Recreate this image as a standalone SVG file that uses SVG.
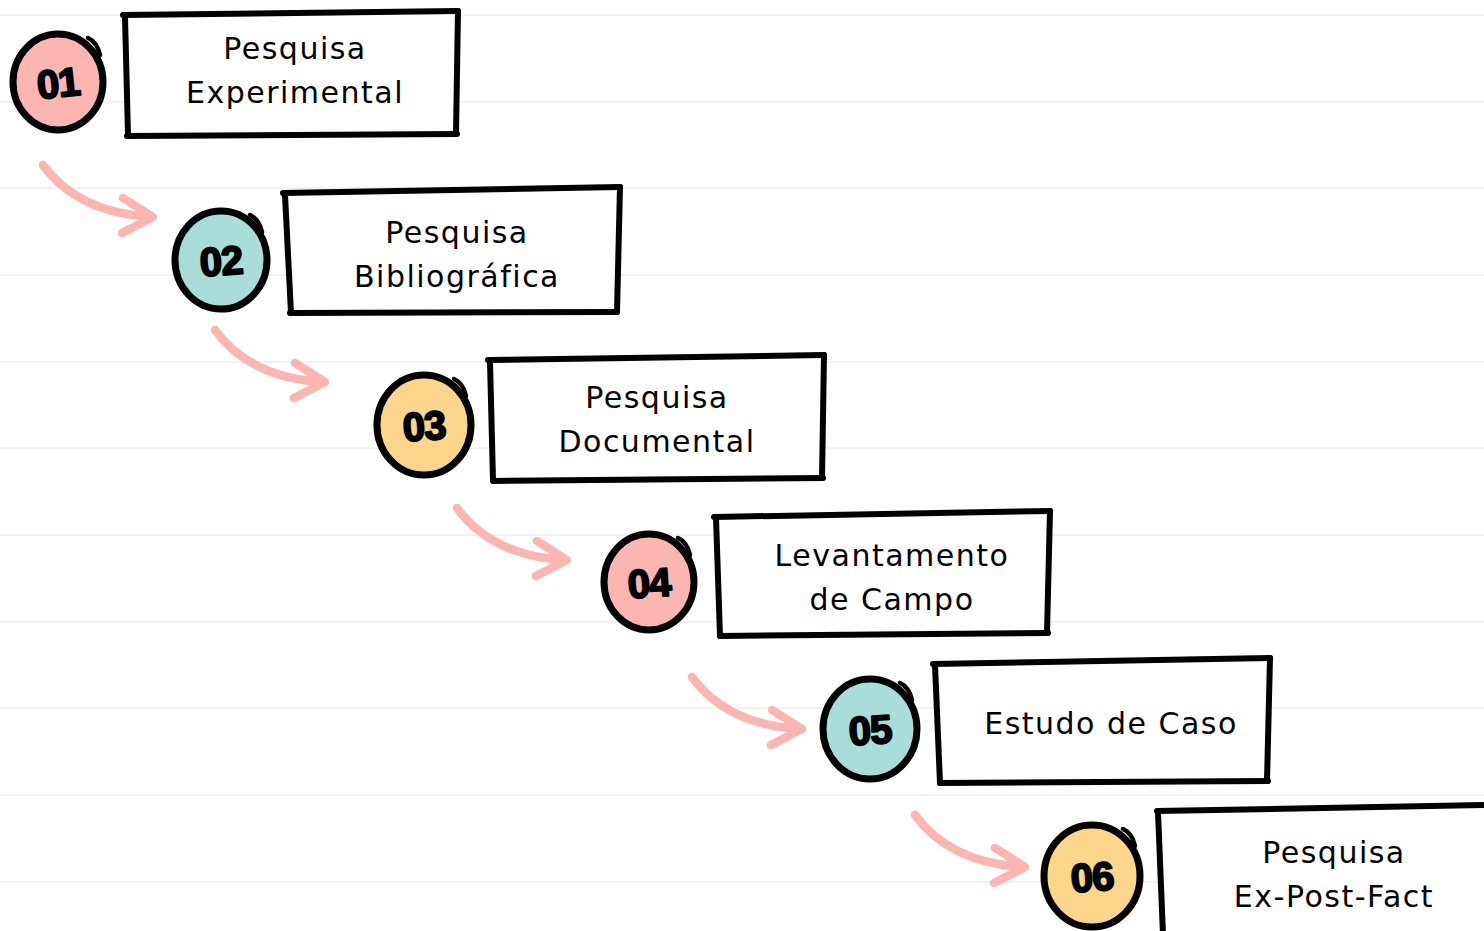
<svg xmlns="http://www.w3.org/2000/svg" width="1484" height="931" viewBox="0 0 1484 931">
<style>
.grid{stroke:#f1f1f1;stroke-width:2;fill:none}
.box{fill:#fff;stroke:none}
.edge{stroke:#000;stroke-width:6;stroke-linecap:round;fill:none}
.ring{fill:none;stroke:#000;stroke-width:7}
.tick{fill:none;stroke:#000;stroke-width:4.5;stroke-linecap:round}
.pink{fill:#fbb6b1}
.teal{fill:#a8ded7}
.yellow{fill:#fdd68c}
.num{font-family:"Liberation Sans",Arial,sans-serif;font-weight:bold;font-size:40px;fill:#000;stroke:#000;stroke-width:2;stroke-linejoin:round;text-anchor:middle;letter-spacing:-1px}
.lbl{font-family:"DejaVu Sans",sans-serif;font-size:30px;fill:#000;text-anchor:middle;letter-spacing:1.5px}
.arr{fill:none;stroke:#fbb6b1;stroke-width:8.5;stroke-linecap:round;stroke-linejoin:round}
</style>
<defs>
<path id="arrowShape" d="M0,0 Q35,48 109,52 M80,33 L110,52 L79,68"/>
</defs>
<rect width="1484" height="931" fill="#fff"/>
<g id="grid">
<line class="grid" x1="0" y1="15" x2="1484" y2="15"/>
<line class="grid" x1="0" y1="101.7" x2="1484" y2="101.7"/>
<line class="grid" x1="0" y1="188.3" x2="1484" y2="188.3"/>
<line class="grid" x1="0" y1="275" x2="1484" y2="275"/>
<line class="grid" x1="0" y1="361.7" x2="1484" y2="361.7"/>
<line class="grid" x1="0" y1="448.3" x2="1484" y2="448.3"/>
<line class="grid" x1="0" y1="535" x2="1484" y2="535"/>
<line class="grid" x1="0" y1="621.7" x2="1484" y2="621.7"/>
<line class="grid" x1="0" y1="708.3" x2="1484" y2="708.3"/>
<line class="grid" x1="0" y1="795" x2="1484" y2="795"/>
<line class="grid" x1="0" y1="881.7" x2="1484" y2="881.7"/>
</g>
<g id="connectors">
<use href="#arrowShape" class="arr" transform="translate(43,165)"/>
<use href="#arrowShape" class="arr" transform="translate(215,330)"/>
<use href="#arrowShape" class="arr" transform="translate(457,508)"/>
<use href="#arrowShape" class="arr" transform="translate(692,677)"/>
<use href="#arrowShape" class="arr" transform="translate(915,815)"/>
</g>
<g id="node1">
<g transform="translate(58,82)">
<ellipse class="pink" cx="1" cy="1" rx="46" ry="49"/>
<ellipse class="ring" cx="0" cy="0" rx="45" ry="48"/>
<path class="tick" d="M30,-44 Q39,-40 42,-27"/>
<text class="num" x="0" y="15" transform="rotate(-6)">01</text>
</g>
<path class="box" d="M124,15 L458,11 L456,134 L128,136 Z"/>
<line class="edge" x1="123" y1="15" x2="458" y2="11"/>
<line class="edge" x1="125" y1="17" x2="128" y2="135"/>
<line class="edge" x1="127" y1="136" x2="457" y2="134"/>
<line class="edge" x1="458" y1="11" x2="456" y2="133"/>
<text class="lbl" x="295" y="59">Pesquisa</text>
<text class="lbl" x="295" y="103">Experimental</text>
</g>
<g id="node2">
<g transform="translate(221,260)">
<ellipse class="teal" cx="1" cy="1" rx="47" ry="50"/>
<ellipse class="ring" cx="0" cy="0" rx="46" ry="49"/>
<path class="tick" d="M29,-45 Q38,-41 41,-28"/>
<text class="num" x="0" y="15" transform="rotate(-4)">02</text>
</g>
<path class="box" d="M284,193 L620,187 L617,312 L291,313 Z"/>
<line class="edge" x1="283" y1="193" x2="620" y2="187"/>
<line class="edge" x1="285" y1="195" x2="291" y2="313"/>
<line class="edge" x1="290" y1="313" x2="617" y2="312"/>
<line class="edge" x1="620" y1="187" x2="617" y2="312"/>
<text class="lbl" x="457" y="243">Pesquisa</text>
<text class="lbl" x="457" y="287">Bibliográfica</text>
</g>
<g id="node3">
<g transform="translate(424,425)">
<ellipse class="yellow" cx="2" cy="2" rx="48" ry="51"/>
<ellipse class="ring" cx="0" cy="0" rx="47" ry="50"/>
<path class="tick" d="M30,-46 Q39,-42 42,-29"/>
<text class="num" x="0" y="15" transform="rotate(-4)">03</text>
</g>
<path class="box" d="M489,360 L824,355 L822,478 L493,481 Z"/>
<line class="edge" x1="488" y1="360" x2="824" y2="355"/>
<line class="edge" x1="490" y1="362" x2="493" y2="480"/>
<line class="edge" x1="493" y1="481" x2="823" y2="478"/>
<line class="edge" x1="824" y1="355" x2="822" y2="478"/>
<text class="lbl" x="657" y="408">Pesquisa</text>
<text class="lbl" x="657" y="452">Documental</text>
</g>
<g id="node4">
<g transform="translate(649,582)">
<ellipse class="pink" cx="1" cy="1" rx="46" ry="49"/>
<ellipse class="ring" cx="0" cy="0" rx="45" ry="48"/>
<path class="tick" d="M29,-44 Q38,-40 41,-27"/>
<text class="num" x="0" y="15" transform="rotate(-4)">04</text>
</g>
<path class="box" d="M715,517 L1050,511 L1047,633 L720,636 Z"/>
<line class="edge" x1="714" y1="517" x2="1050" y2="511"/>
<line class="edge" x1="716" y1="518" x2="720" y2="636"/>
<line class="edge" x1="720" y1="636" x2="1048" y2="633"/>
<line class="edge" x1="1050" y1="511" x2="1047" y2="633"/>
<text class="lbl" x="892" y="566">Levantamento</text>
<text class="lbl" x="892" y="610">de Campo</text>
</g>
<g id="node5">
<g transform="translate(870,729)">
<ellipse class="teal" cx="1" cy="1" rx="48" ry="51"/>
<ellipse class="ring" cx="0" cy="0" rx="47" ry="50"/>
<path class="tick" d="M30,-46 Q39,-42 42,-29"/>
<text class="num" x="0" y="15" transform="rotate(-4)">05</text>
</g>
<path class="box" d="M934,664 L1270,658 L1267,781 L940,783 Z"/>
<line class="edge" x1="933" y1="664" x2="1270" y2="658"/>
<line class="edge" x1="935" y1="665" x2="940" y2="783"/>
<line class="edge" x1="940" y1="783" x2="1268" y2="781"/>
<line class="edge" x1="1270" y1="658" x2="1267" y2="781"/>
<text class="lbl" x="1111" y="734">Estudo de Caso</text>
</g>
<g id="node6">
<g transform="translate(1092,876)">
<ellipse class="yellow" cx="2" cy="2" rx="49" ry="52"/>
<ellipse class="ring" cx="0" cy="0" rx="48" ry="51"/>
<path class="tick" d="M31,-47 Q40,-43 43,-30"/>
<text class="num" x="0" y="15" transform="rotate(-4)">06</text>
</g>
<path class="box" d="M1157,811 L1490,805 L1490,935 L1163,935 Z"/>
<line class="edge" x1="1157" y1="811" x2="1490" y2="805"/>
<line class="edge" x1="1158" y1="812" x2="1163" y2="935"/>
<text class="lbl" x="1334" y="863">Pesquisa</text>
<text class="lbl" x="1334" y="907">Ex-Post-Fact</text>
</g>
</svg>
